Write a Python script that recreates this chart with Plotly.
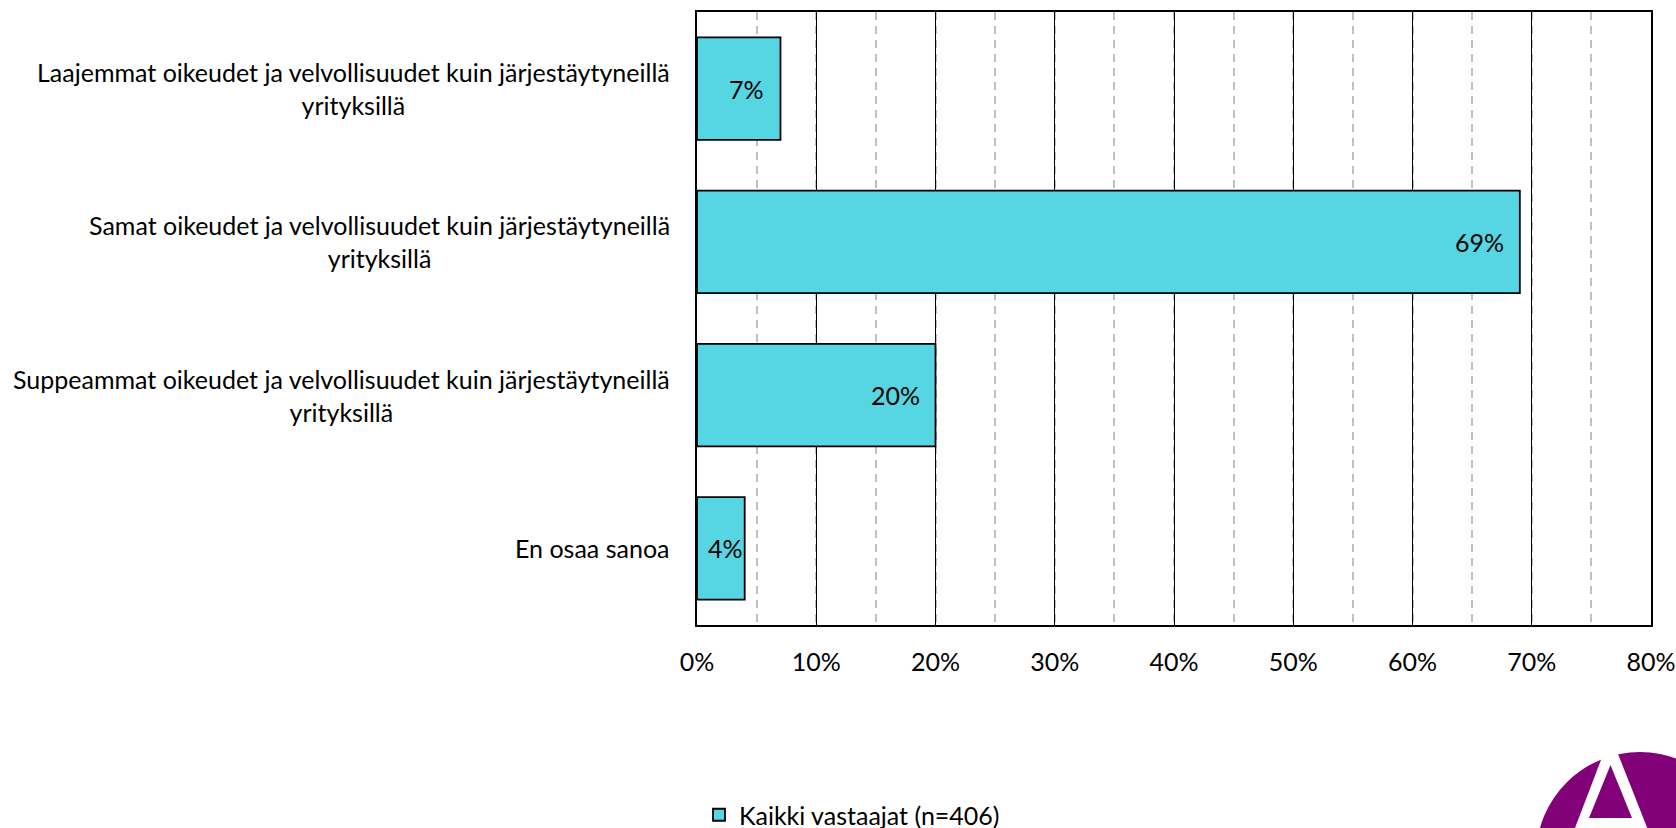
import plotly.graph_objects as go

categories = [
    "Laajemmat oikeudet ja velvollisuudet kuin järjestäytyneillä<br>yrityksillä",
    "Samat oikeudet ja velvollisuudet kuin järjestäytyneillä<br>yrityksillä",
    "Suppeammat oikeudet ja velvollisuudet kuin järjestäytyneillä<br>yrityksillä",
    "En osaa sanoa",
]
values = [0.07, 0.69, 0.20, 0.04]
labels = ["7%", "69%", "20%", "4%"]
series_name = "Kaikki vastaajat (n=406)"
x_tick_vals = [0, 0.1, 0.2, 0.3, 0.4, 0.5, 0.6, 0.7, 0.8]
x_tick_text = ["0%", "10%", "20%", "30%", "40%", "50%", "60%", "70%", "80%"]

W, H = 1676, 828
L, R, T, B = 697, 25, 12, 203
PW, PH = W - L - R, H - T - B
FONT = "Lato"
FS = 25
BAR_COLOR = "#56D6E3"

def px_x(px):
    return (px - L) / PW

def px_y(py):
    return (H - B - py) / PH

fig = go.Figure()
fig.add_trace(go.Bar(
    x=values, y=categories, orientation="h", name=series_name,
    marker=dict(color=BAR_COLOR, line=dict(color="black", width=1.8)),
    width=0.67, showlegend=True, hoverinfo="skip",
))

annotations = []
xmax = 0.8
for c, v, t in zip(categories, values, labels):
    bar_px = v / xmax * PW
    shift = -14 if bar_px > 70 else 0
    annotations.append(dict(x=v, y=c, xref="x", yref="y", text=t, showarrow=False,
                            xanchor="right", yanchor="middle", xshift=shift,
                            font=dict(family=FONT, size=FS, color="black")))
    annotations.append(dict(x=px_x(672), y=c, xref="paper", yref="y", text=c,
                            showarrow=False, xanchor="right", yanchor="middle",
                            align="center",
                            font=dict(family=FONT, size=FS, color="black")))

# logo (decoration)
cx, cy, r = 1640, 855.8, 103.8
shapes = [
    dict(type="circle", xref="paper", yref="paper",
         x0=px_x(cx - r), x1=px_x(cx + r), y0=px_y(cy + r), y1=px_y(cy - r),
         fillcolor="#820078", line=dict(width=0), layer="above"),
    dict(type="path", xref="paper", yref="paper",
         path="M {:.5f},{:.5f} L {:.5f},{:.5f} L {:.5f},{:.5f} Z".format(
             px_x(1610.5), px_y(735), px_x(1568.5), px_y(845), px_x(1654), px_y(845)),
         fillcolor="white", line=dict(width=0), layer="above"),
    dict(type="path", xref="paper", yref="paper",
         path="M {:.5f},{:.5f} L {:.5f},{:.5f} L {:.5f},{:.5f} Z".format(
             px_x(1610.5), px_y(765), px_x(1589), px_y(818), px_x(1632), px_y(818)),
         fillcolor="#820078", line=dict(width=0), layer="above"),
]

fig.update_layout(
    width=W, height=H,
    margin=dict(l=L, r=R, t=T, b=B, pad=0, autoexpand=False),
    paper_bgcolor="white", plot_bgcolor="white",
    font=dict(family=FONT, size=FS, color="black"),
    annotations=annotations,
    shapes=shapes,
    hovermode=False,
    legend=dict(orientation="h", x=px_x(699), y=px_y(815), xanchor="left", yanchor="middle",
                font=dict(family=FONT, size=FS, color="black"), bgcolor="rgba(0,0,0,0)"),
    xaxis=dict(range=[0, xmax], tickvals=x_tick_vals, ticktext=x_tick_text,
               showgrid=True, gridcolor="black", gridwidth=1.3,
               showline=True, linecolor="black", linewidth=1.8, mirror=True,
               ticks="", ticklabelstandoff=14, zeroline=False,
               tickfont=dict(family=FONT, size=FS, color="black"),
               minor=dict(dtick=0.05, showgrid=True, gridcolor="#C0C0C0",
                          gridwidth=1.6, griddash="8px,6px")),
    yaxis=dict(categoryorder="array", categoryarray=categories, autorange="reversed",
               showticklabels=False, showgrid=False, ticks="",
               showline=True, linecolor="black", linewidth=1.8, mirror=True),
)

fig.write_html("out.html", config={"displayModeBar": False},
               post_script="document.body.style.margin='0px';document.body.style.overflow='hidden';")
